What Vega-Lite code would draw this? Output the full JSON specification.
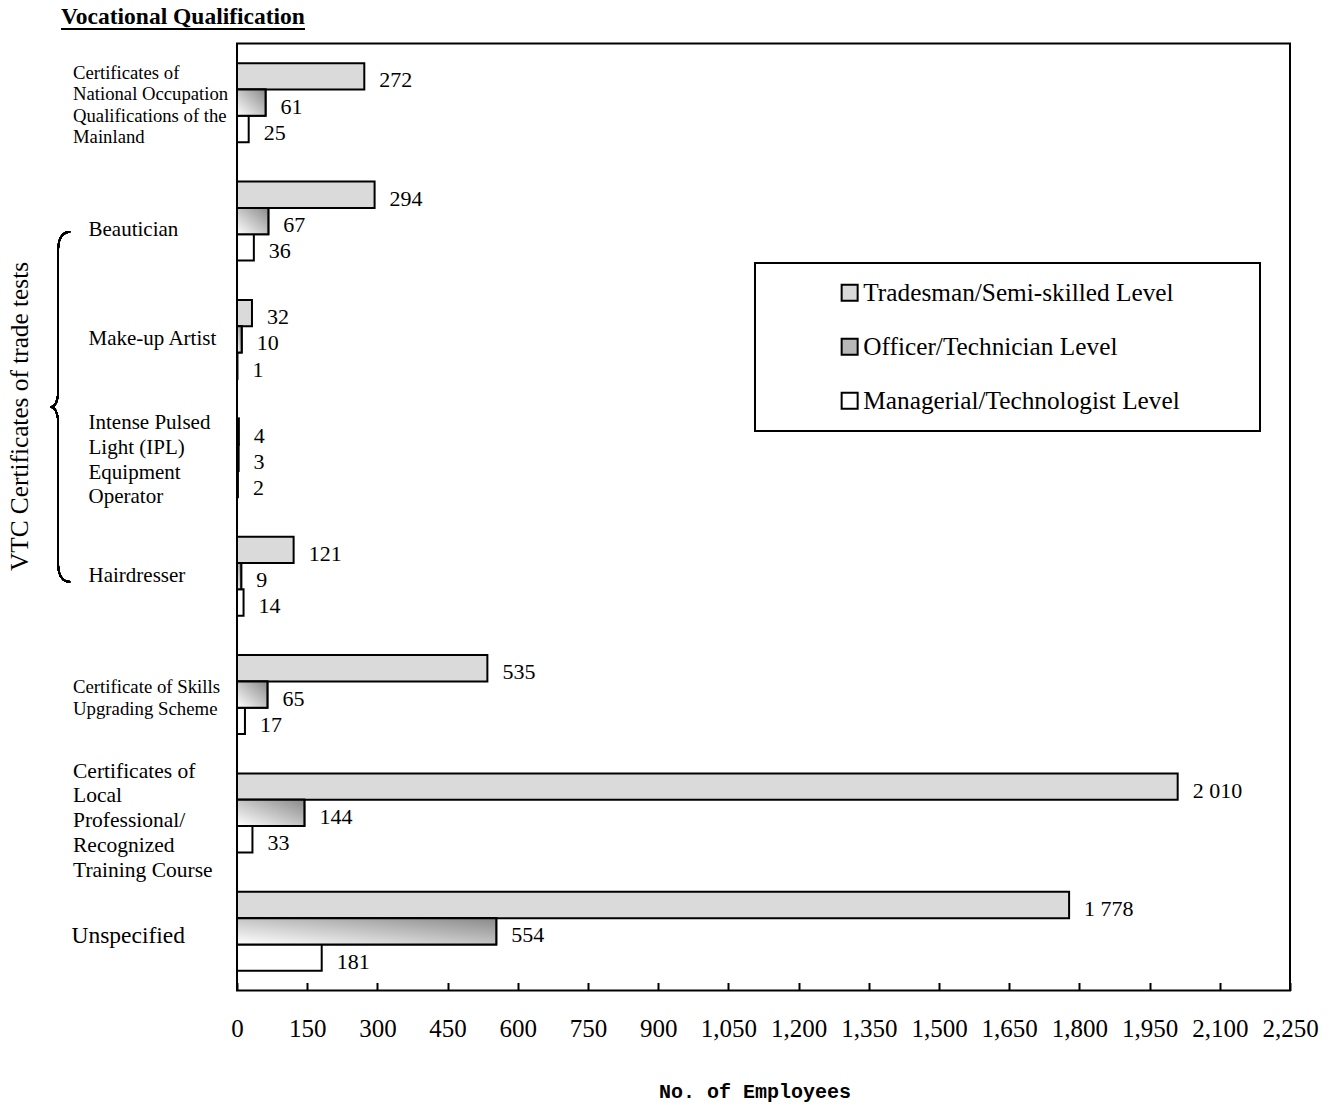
{
  "$schema": "https://vega.github.io/schema/vega-lite/v6.json",
  "width": 1053,
  "height": 947,
  "autosize": {"type": "none"},
  "padding": {"left": 237, "top": 43.5, "right": 45, "bottom": 115.5},
  "background": "white",
  "title": {
    "text": "Vocational Qualification",
    "anchor": "start",
    "frame": "group",
    "dx": -176,
    "offset": 0,
    "font": "Liberation Serif",
    "fontSize": 23.5,
    "fontWeight": "bold",
    "color": "black"
  },
  "data": {
    "values": [
      {"cat": "Certificates of|National Occupation|Qualifications of the|Mainland", "level": "Tradesman/Semi-skilled Level", "value": 272},
      {"cat": "Certificates of|National Occupation|Qualifications of the|Mainland", "level": "Officer/Technician Level", "value": 61},
      {"cat": "Certificates of|National Occupation|Qualifications of the|Mainland", "level": "Managerial/Technologist Level", "value": 25},
      {"cat": "Beautician", "level": "Tradesman/Semi-skilled Level", "value": 294},
      {"cat": "Beautician", "level": "Officer/Technician Level", "value": 67},
      {"cat": "Beautician", "level": "Managerial/Technologist Level", "value": 36},
      {"cat": "Make-up Artist", "level": "Tradesman/Semi-skilled Level", "value": 32},
      {"cat": "Make-up Artist", "level": "Officer/Technician Level", "value": 10},
      {"cat": "Make-up Artist", "level": "Managerial/Technologist Level", "value": 1},
      {"cat": "Intense Pulsed|Light (IPL)|Equipment|Operator", "level": "Tradesman/Semi-skilled Level", "value": 4},
      {"cat": "Intense Pulsed|Light (IPL)|Equipment|Operator", "level": "Officer/Technician Level", "value": 3},
      {"cat": "Intense Pulsed|Light (IPL)|Equipment|Operator", "level": "Managerial/Technologist Level", "value": 2},
      {"cat": "Hairdresser", "level": "Tradesman/Semi-skilled Level", "value": 121},
      {"cat": "Hairdresser", "level": "Officer/Technician Level", "value": 9},
      {"cat": "Hairdresser", "level": "Managerial/Technologist Level", "value": 14},
      {"cat": "Certificate of Skills|Upgrading Scheme", "level": "Tradesman/Semi-skilled Level", "value": 535},
      {"cat": "Certificate of Skills|Upgrading Scheme", "level": "Officer/Technician Level", "value": 65},
      {"cat": "Certificate of Skills|Upgrading Scheme", "level": "Managerial/Technologist Level", "value": 17},
      {"cat": "Certificates of|Local|Professional/|Recognized|Training Course", "level": "Tradesman/Semi-skilled Level", "value": 2010},
      {"cat": "Certificates of|Local|Professional/|Recognized|Training Course", "level": "Officer/Technician Level", "value": 144},
      {"cat": "Certificates of|Local|Professional/|Recognized|Training Course", "level": "Managerial/Technologist Level", "value": 33},
      {"cat": "Unspecified", "level": "Tradesman/Semi-skilled Level", "value": 1778},
      {"cat": "Unspecified", "level": "Officer/Technician Level", "value": 554},
      {"cat": "Unspecified", "level": "Managerial/Technologist Level", "value": 181}
    ]
  },
  "transform": [
    {"calculate": "replace(format(datum.value, ','), ',', ' ')", "as": "label"}
  ],
  "layer": [
    {
      "mark": {"type": "bar", "stroke": "black", "strokeWidth": 2},
      "encoding": {
        "y": {
          "field": "cat", "type": "nominal", "sort": null,
          "scale": {
            "domain": [
              "Certificates of|National Occupation|Qualifications of the|Mainland",
              "Beautician",
              "Make-up Artist",
              "Intense Pulsed|Light (IPL)|Equipment|Operator",
              "Hairdresser",
              "Certificate of Skills|Upgrading Scheme",
              "Certificates of|Local|Professional/|Recognized|Training Course",
              "Unspecified"
            ],
            "paddingInner": 0, "paddingOuter": 0
          },
          "axis": {
            "title": "VTC Certificates of trade tests",
            "titleFont": "Liberation Serif",
            "titleFontSize": 25.3,
            "titleFontWeight": "normal",
            "titleColor": "black",
            "titleAngle": 270,
            "titleX": -218,
            "titleY": 372.5,
            "titleAlign": "center",
            "titleBaseline": "middle",
            "ticks": false,
            "domain": false,
            "grid": false,
            "labelAlign": "left",
            "labelBaseline": "middle",
            "labelColor": "black",
            "labelFont": "Liberation Serif",
            "labelLimit": 400,
            "labelExpr": "split(datum.label, '|')",
            "labelLineHeight": {"expr": "indexof(datum.value, 'National') >= 0 ? 21.3 : (indexof(datum.value, 'Skills') >= 0 ? 22 : 24.7)"},
            "labelPadding": {
              "condition": [
                {"test": "indexof(['Beautician','Make-up Artist','Hairdresser'], datum.value) >= 0 || indexof(datum.value, 'Intense') == 0", "value": 149},
                {"test": "datum.value == 'Unspecified'", "value": 166}
              ],
              "value": 164.5
            },
            "labelFontSize": {
              "condition": [
                {"test": "indexof(datum.value, 'National') >= 0", "value": 18.7},
                {"test": "indexof(datum.value, 'Skills') >= 0", "value": 18.8},
                {"test": "indexof(datum.value, 'Local') >= 0", "value": 21.5},
                {"test": "datum.value == 'Unspecified'", "value": 23.5}
              ],
              "value": 21
            },
            "labelOffset": {
              "condition": [
                {"test": "datum.value == 'Beautician'", "value": 9},
                {"test": "indexof(datum.value, 'Local') >= 0", "value": -41.2},
                {"test": "datum.value == 'Unspecified'", "value": 5},
                {"test": "indexof(datum.value, 'National') >= 0", "value": -29.7},
                {"test": "indexof(datum.value, 'Intense') == 0", "value": -34.7},
                {"test": "indexof(datum.value, 'Skills') >= 0", "value": -7.7}
              ],
              "value": 0
            }
          }
        },
        "x": {
          "field": "value", "type": "quantitative",
          "scale": {"domain": [0, 2250], "nice": false, "zero": true},
          "axis": {
            "title": "No. of Employees",
            "values": [0, 150, 300, 450, 600, 750, 900, 1050, 1200, 1350, 1500, 1650, 1800, 1950, 2100, 2250],
            "format": ",d",
            "labelFont": "Liberation Serif",
            "labelFontSize": 25,
            "labelColor": "black",
            "labelFlush": false,
            "labelOverlap": false,
            "labelPadding": 46,
            "labelBaseline": "middle",
            "tickSize": -8,
            "tickColor": "black",
            "tickWidth": 2,
            "domain": false,
            "grid": false,
            "titleFont": "Liberation Mono",
            "titleFontSize": 20,
            "titleFontWeight": "bold",
            "titleColor": "black",
            "titleX": 517.5,
            "titleY": 101,
            "titleBaseline": "middle",
            "titleAlign": "center"
          }
        },
        "yOffset": {
          "field": "level", "type": "nominal", "sort": null,
          "scale": {
            "domain": ["Tradesman/Semi-skilled Level", "Officer/Technician Level", "Managerial/Technologist Level"],
            "paddingInner": 0, "paddingOuter": 0.75
          }
        },
        "fill": {
          "field": "level", "type": "nominal", "sort": null,
          "scale": {
            "domain": ["Tradesman/Semi-skilled Level", "Officer/Technician Level", "Managerial/Technologist Level"],
            "range": ["#dadada", "#b8b8b8", "#ffffff"]
          },
          "legend": {
            "title": null,
            "orient": "none",
            "legendX": 518,
            "legendY": 219.5,
            "symbolType": "square",
            "symbolSize": 256,
            "symbolStrokeColor": "black",
            "symbolStrokeWidth": 2,
            "symbolOpacity": 1,
            "symbolOffset": 65,
            "labelOffset": 1,
            "labelFont": "Liberation Serif",
            "labelFontSize": 25.3,
            "labelColor": "black",
            "labelLimit": 800,
            "labelExpr": "datum.label + '\u00a0\u00a0\u00a0\u00a0\u00a0\u00a0\u00a0\u00a0\u00a0\u00a0\u200b'",
            "rowPadding": 28,
            "padding": 17,
            "strokeColor": "black"
          }
        }
      }
    },
    {
      "transform": [{"filter": "datum.level == 'Officer/Technician Level'"}],
      "mark": {
        "type": "bar",
        "stroke": "black",
        "strokeWidth": 2,
        "fill": {
          "gradient": "linear",
          "x1": 0, "y1": 1, "x2": 1, "y2": 0,
          "stops": [
            {"offset": 0, "color": "#ffffff"},
            {"offset": 1, "color": "#8a8a8a"}
          ]
        }
      },
      "encoding": {
        "y": {"field": "cat", "type": "nominal", "sort": null},
        "x": {"field": "value", "type": "quantitative"},
        "yOffset": {"field": "level", "type": "nominal", "sort": null}
      }
    },
    {
      "mark": {"type": "text", "align": "left", "baseline": "middle", "dx": 15, "dy": 4, "font": "Liberation Serif", "fontSize": 22, "color": "black"},
      "encoding": {
        "y": {"field": "cat", "type": "nominal", "sort": null},
        "x": {"field": "value", "type": "quantitative"},
        "yOffset": {"field": "level", "type": "nominal", "sort": null},
        "text": {"field": "label", "type": "nominal"}
      }
    },
    {
      "mark": {
        "type": "point",
        "shape": "M 0.057 -1 C 0.02 -1 -0.011 -0.97 -0.011 -0.9 L -0.011 -0.1 C -0.011 -0.03 -0.03 0 -0.057 0 C -0.03 0 -0.011 0.03 -0.011 0.1 L -0.011 0.9 C -0.011 0.97 0.02 1 0.057 1",
        "size": 122500,
        "filled": false,
        "stroke": "black",
        "strokeWidth": 1.6,
        "opacity": 1
      },
      "encoding": {
        "x": {"datum": -378, "type": "quantitative"},
        "y": {"datum": "Intense Pulsed|Light (IPL)|Equipment|Operator", "type": "nominal", "bandPosition": 0.07}
      }
    },
    {
      "mark": {"type": "rule", "stroke": "black", "strokeWidth": 1.5},
      "encoding": {
        "x": {"datum": -376, "type": "quantitative"},
        "x2": {"datum": 145},
        "y": {"datum": "Certificates of|National Occupation|Qualifications of the|Mainland", "type": "nominal", "bandPosition": -0.1225}
      }
    }
  ],
  "config": {
    "font": "Liberation Serif",
    "view": {"stroke": "black", "strokeWidth": 2},
    "legend": {"strokeWidth": 2}
  }
}
